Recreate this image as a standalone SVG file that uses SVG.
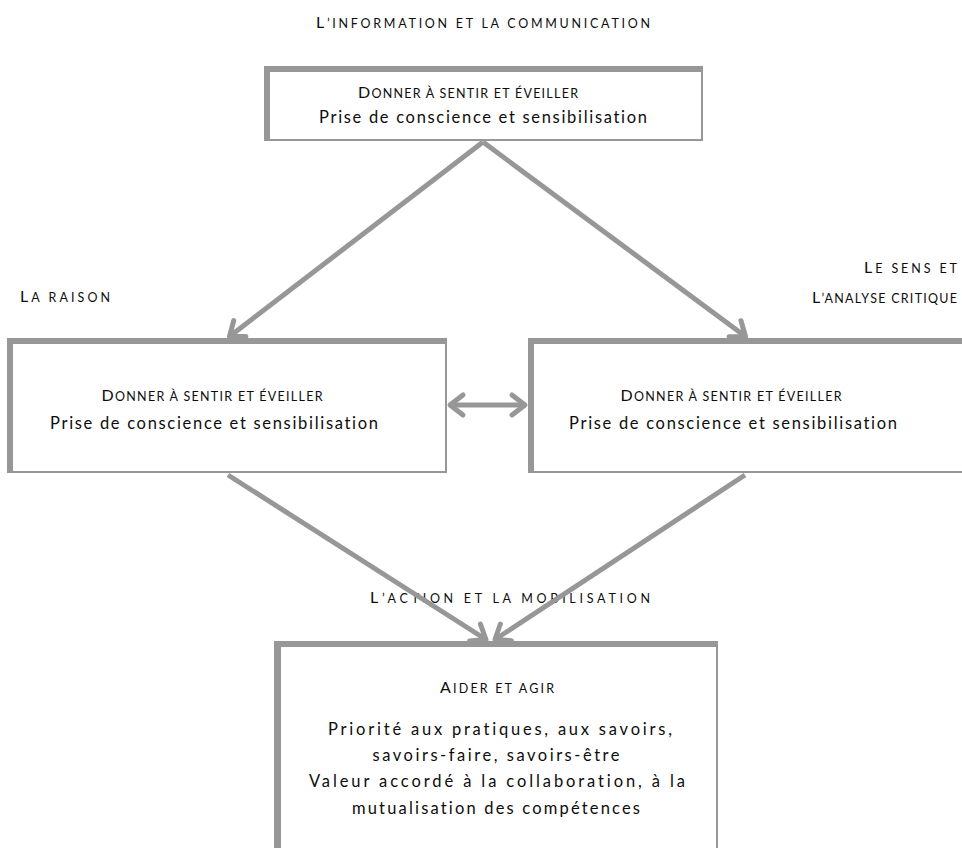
<svg xmlns="http://www.w3.org/2000/svg" width="962" height="848" viewBox="0 0 962 848">
<style>
  .frame { fill: #979797; }
  .inner { fill: #ffffff; }
  text { font-family: "Lato", "Liberation Sans", sans-serif; fill: #0d0d0d; font-size: 16.5px; font-variant-ligatures: none; }
  .sc { font-size: 16px; }
  .s { font-size: 12.5px; }
  .conn { stroke: #979797; stroke-width: 5; fill: none; }
</style>
<defs>
  <marker id="head" markerUnits="userSpaceOnUse" viewBox="-20 -14 24 28" markerWidth="24" markerHeight="28" refX="0" refY="0" orient="auto-start-reverse">
    <path d="M -13 -10 L 0 0 L -13 10" fill="none" stroke="#979797" stroke-width="5" stroke-linecap="round" stroke-linejoin="round"/>
  </marker>
</defs>
<rect width="962" height="848" fill="#ffffff"/>

<text class="sc" x="483" y="28" text-anchor="middle" textLength="334" lengthAdjust="spacing">L<tspan class="s">’INFORMATION ET LA COMMUNICATION</tspan></text>
<text class="sc" x="20" y="302" textLength="90" lengthAdjust="spacing">L<tspan class="s">A RAISON</tspan></text>
<text class="sc" x="957" y="273" text-anchor="end" textLength="93" lengthAdjust="spacing">L<tspan class="s">E SENS ET</tspan></text>
<text class="sc" x="957" y="303" text-anchor="end" textLength="145" lengthAdjust="spacing">L<tspan class="s">’ANALYSE CRITIQUE</tspan></text>
<text class="sc" x="510" y="603" text-anchor="middle" textLength="280" lengthAdjust="spacing">L<tspan class="s">’ACTION ET LA MOBILISATION</tspan></text>

<g id="connectors">
  <line class="conn" x1="483" y1="142" x2="229.5" y2="336.5" marker-end="url(#head)"/>
  <line class="conn" x1="483" y1="142" x2="745.5" y2="336.5" marker-end="url(#head)"/>
  <line class="conn" x1="450" y1="405" x2="525" y2="405" marker-start="url(#head)" marker-end="url(#head)"/>
  <line class="conn" x1="228" y1="475" x2="486" y2="639.5" marker-end="url(#head)"/>
  <line class="conn" x1="745" y1="475" x2="495" y2="639.5" marker-end="url(#head)"/>
</g>

<g id="node-top">
  <rect class="frame" x="264" y="66" width="439" height="75"/>
  <rect class="inner" x="270" y="72" width="431" height="67"/>
  <text class="sc" x="468" y="98" text-anchor="middle" textLength="220" lengthAdjust="spacing">D<tspan class="s">ONNER À SENTIR ET ÉVEILLER</tspan></text>
  <text x="483" y="123" text-anchor="middle" textLength="328" lengthAdjust="spacing">Prise de conscience et sensibilisation</text>
</g>

<g id="node-left">
  <rect class="frame" x="7" y="338" width="440" height="135"/>
  <rect class="inner" x="13" y="344" width="432" height="127"/>
  <text class="sc" x="212" y="401" text-anchor="middle" textLength="221" lengthAdjust="spacing">D<tspan class="s">ONNER À SENTIR ET ÉVEILLER</tspan></text>
  <text x="214" y="429" text-anchor="middle" textLength="328" lengthAdjust="spacing">Prise de conscience et sensibilisation</text>
</g>

<g id="node-right">
  <rect class="frame" x="528" y="338" width="442" height="135"/>
  <rect class="inner" x="534" y="344" width="436" height="127"/>
  <text class="sc" x="731" y="401" text-anchor="middle" textLength="221" lengthAdjust="spacing">D<tspan class="s">ONNER À SENTIR ET ÉVEILLER</tspan></text>
  <text x="733" y="429" text-anchor="middle" textLength="328" lengthAdjust="spacing">Prise de conscience et sensibilisation</text>
</g>

<g id="node-bottom">
  <rect class="frame" x="274" y="641" width="444" height="220"/>
  <rect class="inner" x="281" y="647" width="435" height="214"/>
  <text class="sc" x="497" y="693" text-anchor="middle" textLength="114" lengthAdjust="spacing">A<tspan class="s">IDER ET AGIR</tspan></text>
  <text x="500" y="735" text-anchor="middle" textLength="344" lengthAdjust="spacing">Priorité aux pratiques, aux savoirs,</text>
  <text x="496" y="761" text-anchor="middle" textLength="247" lengthAdjust="spacing">savoirs-faire, savoirs-être</text>
  <text x="497" y="787" text-anchor="middle" textLength="376" lengthAdjust="spacing">Valeur accordé à la collaboration, à la</text>
  <text x="496" y="814" text-anchor="middle" textLength="288" lengthAdjust="spacing">mutualisation des compétences</text>
</g>
</svg>
